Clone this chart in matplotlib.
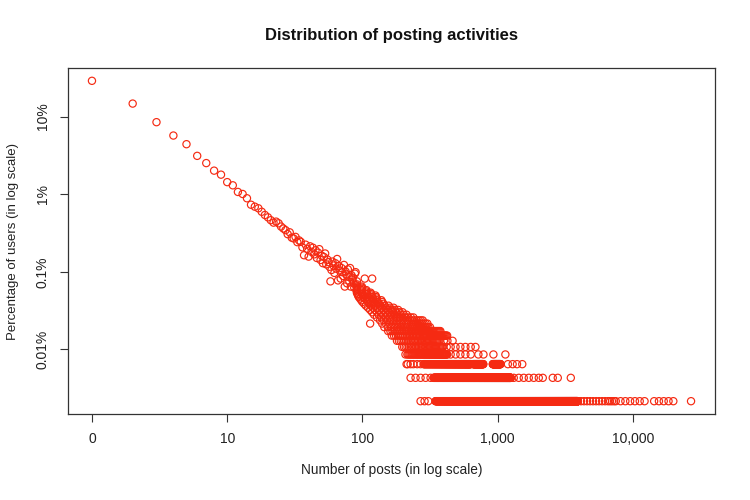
import numpy as np
import matplotlib.pyplot as plt

plt.rcParams['font.family'] = ['Liberation Sans', 'DejaVu Sans']

# total number of users (one user = the lowest row of points)
n_users = 46500

# users for each posting count 1..90
head_posts = list(range(1, 91))
head_users = [13440, 6840, 3940, 2650, 2050, 1450, 1170, 935, 830, 665,
              605, 497, 468, 412, 340, 321, 306, 276, 251, 234,
              215, 200, 206, 196, 178, 168, 160, 142, 150, 128,
              125, 131, 112, 118, 113, 96, 76, 104, 92, 73,
              99, 84, 95, 78, 88, 70, 82, 91, 66, 75,
              60, 72, 80, 58, 67, 62, 54, 35, 49, 63,
              56, 45, 60, 51, 68, 36, 55, 48, 38, 52,
              46, 41, 57, 30, 47, 43, 33, 50, 40, 35,
              52, 30, 42, 37, 39, 33, 29, 44, 46, 31]

# larger posting counts: (users, first posts, last posts, every n-th count)
level_runs = [
    (1, 347, 3900, 2), (2, 336, 1248, 2), (3, 283, 632, 3), (3, 660, 785, 3),
    (3, 920, 1050, 3), (4, 215, 425, 4), (5, 197, 397, 6), (6, 180, 377, 6),
    (7, 165, 425, 6), (8, 155, 377, 6), (9, 145, 318, 9), (10, 140, 303, 9),
    (11, 135, 282, 9), (12, 128, 245, 10), (13, 122, 215, 10), (14, 118, 200, 10),
    (15, 114, 185, 10), (16, 110, 170, 10), (17, 106, 160, 10), (18, 103, 152, 10),
    (19, 100, 145, 10), (20, 98, 140, 10), (21, 96, 135, 8), (22, 94, 130, 8),
    (23, 93, 126, 8), (24, 92, 122, 8), (25, 91, 118, 8), (26, 91, 114, 8),
    (27, 91, 110, 8), (28, 91, 106, 8), (29, 91, 103, 8), (30, 91, 100, 8),
    (32, 91, 97, 8), (35, 91, 94, 8),
]

# isolated points on the low rows and a few strays
level_points = {
    1: [269, 288, 307, 4130, 4350, 4580, 4820, 5070, 5340, 5620, 5920, 6230,
        6540, 6770, 7000, 7260, 7470, 8100, 8790, 9540, 10350, 11230, 12190,
        14350, 15570, 16900, 18340, 19900, 26900],
    2: [227, 247, 269, 293, 319, 1315, 1432, 1559, 1698, 1849, 2013, 2155,
        2554, 2782, 3473],
    3: [212, 216, 227, 238, 254, 269, 1190, 1290, 1390, 1520],
    4: [208, 449, 488, 530, 577, 632, 720, 785, 930, 1140],
    5: [420, 449, 488, 530, 577, 632, 685],
    6: [400, 425, 464],
    10: [114],
    38: [104, 118],
}

x_ticks = [1, 10, 100, 1000, 10000]
x_labels = ['0', '10', '100', '1,000', '10,000']
y_ticks = [10, 1, 0.1, 0.01]
y_labels = ['10%', '1%', '0.1%', '0.01%']

# assemble points
posts = list(head_posts)
users = list(head_users)
for c, lo, hi, step in level_runs:
    run = np.arange(lo, hi + 1, step)
    posts += list(run)
    users += [c] * len(run)
for c, xs in level_points.items():
    posts += xs
    users += [c] * len(xs)
posts = np.array(posts, dtype=float)
pct = np.array(users, dtype=float) / n_users * 100

fig = plt.figure(figsize=(7.5, 5), dpi=100)
ax = fig.add_axes([68 / 750, 86 / 500, 647 / 750, 346 / 500])

red = '#F52A12'
ax.scatter(posts, pct, s=27, facecolors='none', edgecolors=red, linewidths=0.85)

ax.set_xscale('log')
ax.set_yscale('log')

# R style 4% padding in log space
def padded(v):
    lo, hi = np.log10(v.min()), np.log10(v.max())
    d = (hi - lo) * 0.04
    return 10 ** (lo - d), 10 ** (hi + d)

ax.set_xlim(*padded(posts))
ax.set_ylim(*padded(pct))

ax.set_xticks(x_ticks)
ax.set_xticklabels(x_labels)
ax.set_yticks(y_ticks)
ax.set_yticklabels(y_labels, rotation=90, va='center')
ax.minorticks_off()
ax.tick_params(direction='out', length=6, width=0.8, color='#333333',
               labelsize=10, pad=7, labelcolor='#222222')

for s in ax.spines.values():
    s.set_color('#333333')
    s.set_linewidth(0.9)

fig.text(391.5 / 750, 1 - 35 / 500, 'Distribution of posting activities',
         ha='center', va='center', fontsize=12, fontweight='bold', color='#111111')
fig.text(391.5 / 750, 1 - 470 / 500, 'Number of posts (in log scale)',
         ha='center', va='center', fontsize=9.8, color='#222222')
fig.text(13 / 750, 1 - 241 / 500, 'Percentage of users (in log scale)',
         ha='center', va='center', rotation=90, fontsize=9.5, color='#222222')

fig.savefig('out.png', dpi=100)
